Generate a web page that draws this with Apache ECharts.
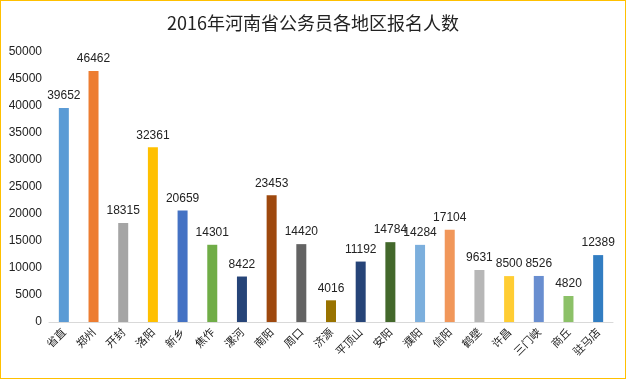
<!DOCTYPE html>
<html><head><meta charset="utf-8">
<script src="https://cdn.jsdelivr.net/npm/echarts@6/dist/echarts.min.js"></script>
<style>html,body{margin:0;padding:0;background:#fff}#c{width:626px;height:379px;box-sizing:border-box;border:1px solid #FFC000}</style>
</head><body><div id="c"></div>
<script>
var categories = ['省直','郑州','开封','洛阳','新乡','焦作','漯河','南阳','周口','济源','平顶山','安阳','濮阳','信阳','鹤壁','许昌','三门峡','商丘','驻马店'];
var values = [39652,46462,18315,32361,20659,14301,8422,23453,14420,4016,11192,14784,14284,17104,9631,8500,8526,4820,12389];
var colors = ['#5B9BD5','#ED7D31','#A5A5A5','#FFC000','#4472C4','#70AD47','#264478','#9E480E','#636363','#997300','#264478','#43682B','#7CAFDD','#F1975A','#B7B7B7','#FFCD33','#698ED0','#8CC168','#327DC2'];
var yTicks = {min:0, max:50000, interval:5000};
var chart = echarts.init(document.getElementById('c'));
chart.setOption({
  animation:false,
  title:{text:'2016年河南省公务员各地区报名人数',left:'center',top:8,textStyle:{fontFamily:'Noto Sans CJK SC',fontSize:18,fontWeight:'normal',color:'#222'}},
  grid:{left:48,right:12,top:51,bottom:56,containLabel:false},
  xAxis:{type:'category',data:categories,axisLine:{lineStyle:{color:'#D9D9D9'}},axisTick:{show:false},
    axisLabel:{rotate:45,interval:0,margin:8,fontSize:11,color:'#222',fontFamily:'Noto Sans CJK SC'}},
  yAxis:{type:'value',min:yTicks.min,max:yTicks.max,interval:yTicks.interval,splitLine:{show:false},axisLine:{show:false},axisTick:{show:false},
    axisLabel:{fontSize:12,color:'#222',margin:7,fontFamily:'Liberation Sans',formatter:function(v){return String(v);}}},
  series:[{type:'bar',barWidth:10,
    data:values.map(function(v,i){return {value:v,itemStyle:{color:colors[i]}};}),
    label:{show:true,position:'top',distance:6,fontSize:12,color:'#222',fontFamily:'Liberation Sans'}}]
});
</script></body></html>
